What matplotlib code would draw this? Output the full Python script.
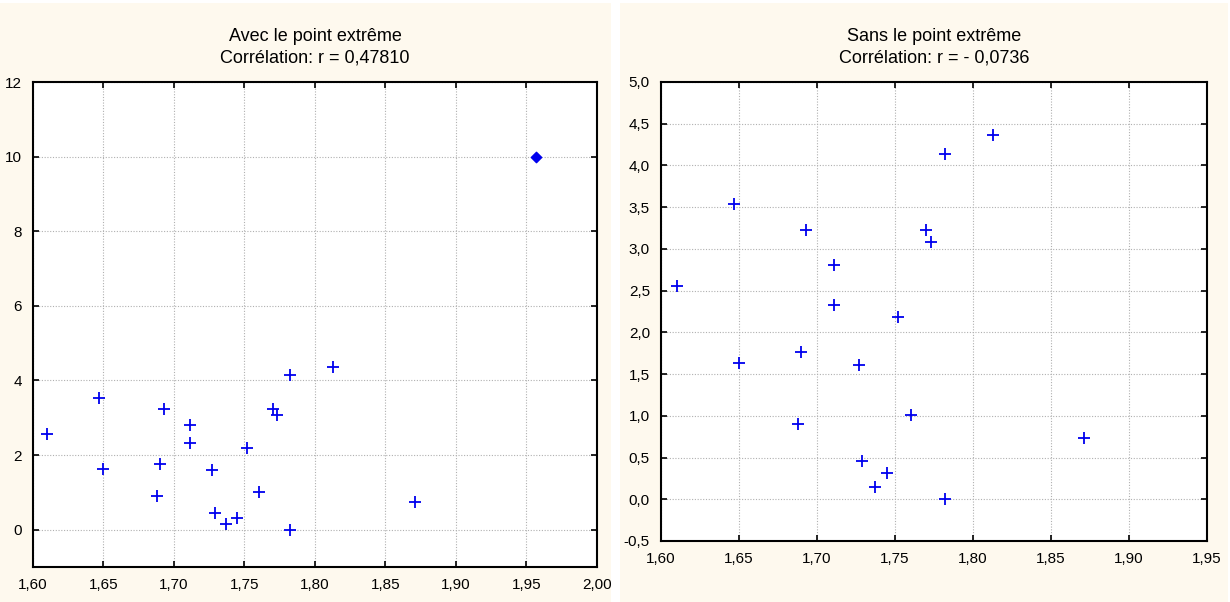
import matplotlib
matplotlib.use("Agg")
import matplotlib.pyplot as plt
from matplotlib.patches import Rectangle
from matplotlib.ticker import FuncFormatter
import numpy as np

plt.rcParams["font.family"] = ["Liberation Sans Narrow", "Liberation Sans", "DejaVu Sans"]

# taille (m) et valeur (y)
x_vals = [1.610, 1.647, 1.650, 1.688, 1.690, 1.693, 1.711, 1.711, 1.727, 1.729,
          1.737, 1.745, 1.752, 1.760, 1.770, 1.773, 1.782, 1.782, 1.813, 1.871]
y_vals = [2.56, 3.54, 1.63, 0.90, 1.76, 3.23, 2.81, 2.33, 1.61, 0.46,
          0.15, 0.31, 2.18, 1.01, 3.23, 3.08, 4.14, 0.00, 4.36, 0.73]
x_extreme = [1.957]
y_extreme = [10.0]

titles = ["Avec le point extrême\nCorrélation: r = 0,47810",
          "Sans le point extrême\nCorrélation: r = - 0,0736"]

left_xticks = np.arange(1.60, 2.001, 0.05)
left_yticks = [0, 2, 4, 6, 8, 10, 12]
right_xticks = np.arange(1.60, 1.951, 0.05)
right_yticks = np.arange(-0.5, 5.01, 0.5)

bg = "#fef9ee"
fig = plt.figure(figsize=(12.3, 6.02), dpi=100, facecolor="white")
fig.patches.append(Rectangle((0, 0), 611 / 1230, 599 / 602, transform=fig.transFigure,
                             facecolor=bg, edgecolor="none", zorder=-1))
fig.patches.append(Rectangle((620 / 1230, 0), 608 / 1230, 599 / 602, transform=fig.transFigure,
                             facecolor=bg, edgecolor="none", zorder=-1))

ax1 = fig.add_axes([33 / 1230, 35 / 602, 564 / 1230, 485 / 602])
ax2 = fig.add_axes([661 / 1230, 61 / 602, 546 / 1230, 459 / 602])


def comma(fmt):
    return FuncFormatter(lambda v, p: (fmt % v).replace(".", ","))


for ax in (ax1, ax2):
    ax.set_facecolor("white")
    ax.grid(True, color="#b0b0b0", linestyle=(0, (1, 1.5)), linewidth=0.8)
    ax.set_axisbelow(True)
    for s in ax.spines.values():
        s.set_linewidth(1.5)
        s.set_color("black")
    ax.tick_params(direction="in", length=4, width=1.2, top=True, right=True,
                   labelsize=11, pad=8, colors="black")
    ax.scatter(x_vals, y_vals, marker="+", s=85, color="#0000ee", linewidths=1.3, zorder=3)

ax1.scatter(x_extreme, y_extreme, marker="D", s=28, color="#0000ee", zorder=3)
ax1.set_xlim(1.60, 2.00)
ax1.set_ylim(-1, 12)
ax1.set_xticks(left_xticks)
ax1.set_yticks(left_yticks)
ax1.xaxis.set_major_formatter(comma("%.2f"))
ax1.yaxis.set_major_formatter(comma("%d"))
ax1.set_title(titles[0], fontsize=13, pad=14, linespacing=1.35)

ax2.set_xlim(1.60, 1.95)
ax2.set_ylim(-0.5, 5.0)
ax2.set_xticks(right_xticks)
ax2.set_yticks(right_yticks)
ax2.xaxis.set_major_formatter(comma("%.2f"))
ax2.yaxis.set_major_formatter(comma("%.1f"))
ax2.set_title(titles[1], fontsize=13, pad=14, linespacing=1.35)

fig.savefig("out.png", dpi=100, facecolor="white")
